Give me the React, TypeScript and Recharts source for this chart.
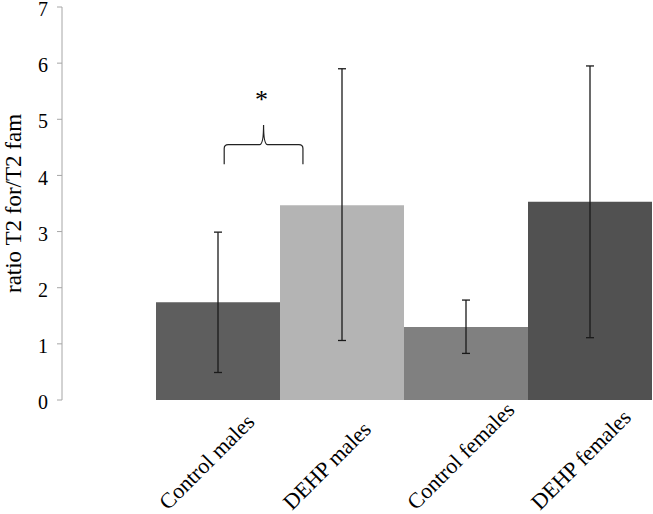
import React from "react";
import {
  BarChart,
  Bar,
  Cell,
  XAxis,
  YAxis,
  ErrorBar,
  ReferenceArea,
} from "recharts";

const groups = ["Control males", "DEHP males", "Control females", "DEHP females"];
const means = [1.74, 3.47, 1.3, 3.53];
const lowerBounds = [0.49, 1.06, 0.83, 1.11];
const upperBounds = [2.99, 5.9, 1.78, 5.95];
const barColors = ["#5e5e5e", "#b4b4b4", "#808080", "#515151"];
const yTicks = [0, 1, 2, 3, 4, 5, 6, 7];

// significance bracket between the two male groups (category units on a hidden numeric axis)
const bracket = { x1: 0.55, x2: 1.185, y1: 4.2, y2: 4.9, mark: "*" };

const data = groups.map((name, i) => ({
  name,
  idx: i,
  value: means[i],
  err: [means[i] - lowerBounds[i], upperBounds[i] - means[i]],
}));

const FONT = "'Liberation Serif', 'Times New Roman', 'DejaVu Serif', serif";

const CategoryTick = (props: any) => {
  const { x, y, payload } = props;
  return (
    <g transform={`translate(${x - 50},${y + 111}) rotate(-45)`}>
      <text
        x={0}
        y={0}
        textAnchor="start"
        fill="#000"
        style={{ fontSize: 22, fontFamily: FONT }}
      >
        {payload.value}
      </text>
    </g>
  );
};

const Brace = (props: any) => {
  const { x, y, width, height } = props;
  const left = x;
  const right = x + width;
  const mid = x + width / 2;
  const top = y;
  const bottom = y + height;
  const hy = y + height / 2;
  const r = 4;
  const d = [
    `M${left},${bottom}`,
    `L${left},${hy + r}`,
    `Q${left},${hy} ${left + r},${hy}`,
    `L${mid - r},${hy}`,
    `Q${mid},${hy} ${mid},${top}`,
    `Q${mid},${hy} ${mid + r},${hy}`,
    `L${right - r},${hy}`,
    `Q${right},${hy} ${right},${hy + r}`,
    `L${right},${bottom}`,
  ].join(" ");
  return (
    <g>
      <path d={d} fill="none" stroke="#222" strokeWidth={1.2} />
      <text
        x={mid - 2}
        y={top - 17}
        textAnchor="middle"
        fill="#000"
        style={{ fontSize: 26, fontFamily: FONT }}
      >
        {bracket.mark}
      </text>
    </g>
  );
};

const YLabel = (props: any) => {
  const { viewBox } = props;
  const cy = viewBox.y + viewBox.height / 2;
  return (
    <text
      x={13}
      y={cy}
      transform={`rotate(-90, 13, ${cy})`}
      textAnchor="middle"
      dominantBaseline="central"
      fill="#000"
      style={{ fontSize: 23, fontFamily: FONT }}
    >
      ratio T2 for/T2 fam
    </text>
  );
};

export default function App() {
  return (
    <div
      style={{
        position: "absolute",
        left: 0,
        top: 0,
        background: "#fff",
        fontFamily: FONT,
      }}
    >
      <BarChart
        width={653}
        height={514}
        data={data}
        margin={{ top: 7, right: 1, bottom: 0, left: 0 }}
        barCategoryGap={0}
        barGap={0}
        style={{ fontFamily: FONT }}
      >
        <XAxis
          dataKey="name"
          height={114}
          axisLine={false}
          tickLine={false}
          tickSize={0}
          tickMargin={0}
          padding={{ left: 94, right: 0 }}
          interval={0}
          tick={<CategoryTick />}
        />
        <XAxis
          xAxisId="annot"
          dataKey="idx"
          type="number"
          domain={[0, 4]}
          allowDataOverflow
          padding={{ left: 94, right: 0 }}
          hide
        />
        <YAxis
          width={62}
          domain={[0, 7]}
          ticks={yTicks}
          interval={0}
          tickSize={5}
          tickMargin={9}
          axisLine={{ stroke: "#a6a6a6" }}
          tickLine={{ stroke: "#a6a6a6" }}
          tick={{ fill: "#000", fontSize: 20, fontFamily: FONT, dy: 2 }}
          label={<YLabel />}
        />
        <Bar dataKey="value" isAnimationActive={false}>
          {data.map((d, i) => (
            <Cell key={d.name} fill={barColors[i]} />
          ))}
          <ErrorBar
            dataKey="err"
            width={4}
            stroke="#1a1a1a"
            strokeWidth={1.3}
            isAnimationActive={false}
          />
        </Bar>
        <ReferenceArea
          xAxisId="annot"
          x1={bracket.x1}
          x2={bracket.x2}
          y1={bracket.y1}
          y2={bracket.y2}
          shape={<Brace />}
        />
      </BarChart>
    </div>
  );
}
